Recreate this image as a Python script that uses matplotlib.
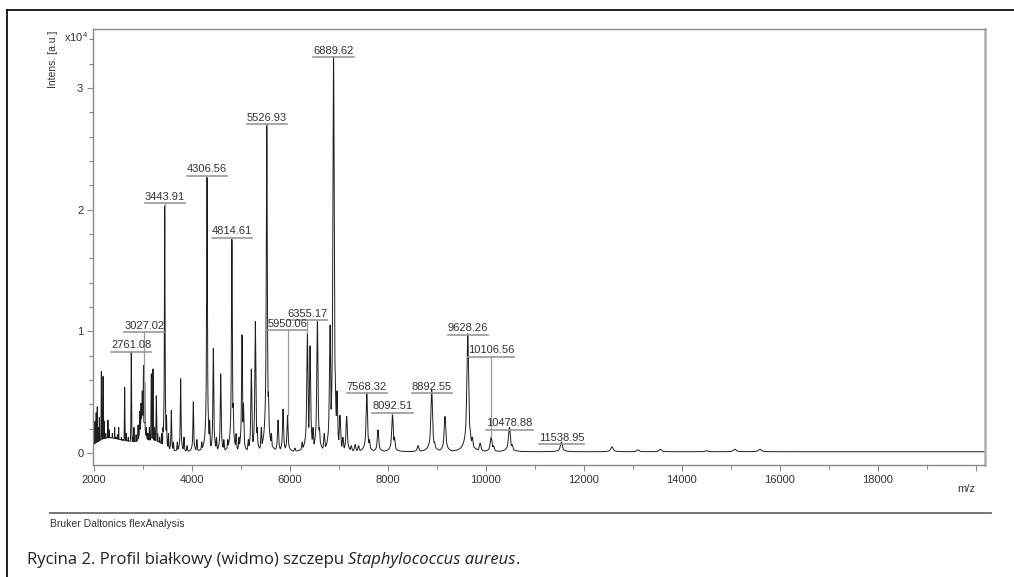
import numpy as np
import matplotlib
matplotlib.use("Agg")
import matplotlib.pyplot as plt
from matplotlib.lines import Line2D

plt.rcParams['font.family'] = ['Liberation Sans', 'DejaVu Sans']
plt.rcParams['mathtext.fontset'] = 'custom'
plt.rcParams['mathtext.rm'] = 'Liberation Sans'

# peaks: m/z and intensity (x10^4 a.u.)
peak_mz = [2020, 2045, 2067, 2090, 2110, 2150, 2185, 2210, 2240, 2285, 2310, 2340,
           2375, 2400, 2422, 2450, 2480, 2504, 2530, 2560, 2590, 2626, 2660, 2700,
           2761, 2790, 2816, 2860, 2900, 2932, 2960, 2985, 3010, 3035, 3070, 3100,
           3130, 3170, 3204, 3235, 3272, 3300, 3340, 3380, 3410, 3444, 3480, 3520,
           3578, 3620, 3700, 3769, 3837, 3900, 4027, 4100, 4200, 4306.56, 4360, 4436,
           4500, 4586, 4650, 4730, 4814.61, 4840, 4900, 4960, 5021, 5050, 5150, 5211,
           5293, 5330, 5415, 5526.93, 5560, 5620, 5756, 5858, 5950, 6100, 6250, 6334,
           6355, 6410, 6470, 6560, 6600, 6700, 6818, 6889.62, 6920, 6960, 7020, 7080,
           7157, 7250, 7330, 7400, 7568, 7620, 7797, 8092, 8130, 8613, 8892, 8950,
           9164, 9628, 9670, 9720, 9880, 10106, 10150, 10479, 10530, 11539, 12570,
           13100, 13560, 14500, 15080, 15590]
peak_int = [0.25, 0.32, 0.37, 0.20, 0.28, 0.66, 0.62, 0.25, 0.15, 0.26, 0.18, 0.12,
            0.15, 0.10, 0.20, 0.12, 0.14, 0.20, 0.10, 0.12, 0.10, 0.53, 0.15, 0.12,
            0.82, 0.12, 0.20, 0.14, 0.22, 0.33, 0.40, 0.50, 0.71, 0.57, 0.20, 0.15,
            0.20, 0.64, 0.68, 0.20, 0.46, 0.15, 0.12, 0.15, 0.20, 2.02, 0.30, 0.15,
            0.34, 0.08, 0.08, 0.60, 0.12, 0.05, 0.41, 0.10, 0.08, 2.26, 0.26, 0.85,
            0.12, 0.64, 0.10, 0.10, 1.75, 0.40, 0.15, 0.12, 0.96, 0.40, 0.10, 0.68,
            1.07, 0.20, 0.20, 2.68, 0.49, 0.15, 0.26, 0.35, 0.30, 0.03, 0.08, 0.15,
            0.98, 0.87, 0.20, 1.07, 0.20, 0.15, 1.04, 3.25, 0.68, 0.50, 0.30, 0.12,
            0.29, 0.05, 0.06, 0.05, 0.48, 0.10, 0.18, 0.31, 0.12, 0.05, 0.51, 0.08,
            0.29, 0.97, 0.20, 0.12, 0.07, 0.12, 0.05, 0.20, 0.06, 0.08, 0.04,
            0.015, 0.02, 0.008, 0.02, 0.02]

# broad underlying humps: centre, height, width (m/z)
hump_mz = [2250, 2800, 3250, 2990, 4320, 4820, 5530, 6420, 6880, 9640]
hump_int = [0.10, 0.07, 0.07, 0.22, 0.10, 0.12, 0.12, 0.12, 0.40, 0.12]
hump_w = [250, 300, 200, 40, 30, 30, 30, 60, 40, 40]

# annotated peaks: m/z and height of the label (x10^4)
label_mz = [2761.08, 3027.02, 3443.91, 4306.56, 4814.61, 5526.93, 5950.06, 6355.17,
            6889.62, 7568.32, 8092.51, 8892.55, 9628.26, 10106.56, 10478.88, 11538.95]
label_level = [0.83, 0.99, 2.05, 2.28, 1.77, 2.70, 1.01, 1.09,
               3.25, 0.49, 0.33, 0.49, 0.97, 0.79, 0.19, 0.07]

xticks = [2000, 4000, 6000, 8000, 10000, 12000, 14000, 16000, 18000, 20000]
xtick_labels = ['2000', '4000', '6000', '8000', '10000', '12000', '14000', '16000', '18000', '']
yticks = [0, 1, 2, 3]

mz = np.arange(2000, 20200, 1.0)
peaks = np.zeros_like(mz)
for c, h in zip(peak_mz, peak_int):
    s = c * 0.0016
    g = 0.65 * np.exp(-0.5 * ((mz - c) / s) ** 2) + 0.35 / (1 + ((mz - c) / (3 * s)) ** 2)
    peaks = np.maximum(peaks, h * g)
humps = np.zeros_like(mz)
for c, h, w in zip(hump_mz, hump_int, hump_w):
    humps += h * np.exp(-0.5 * ((mz - c) / w) ** 2)
spec = np.maximum(peaks, humps) + 0.01

fig = plt.figure(figsize=(10.14, 5.77), dpi=100)
W, H = 1014, 577
ax = fig.add_axes([93 / W, 1 - 465 / H, (985 - 93) / W, (465 - 29) / H])

ax.plot(mz, spec, color='#1e1e1e', lw=0.7)
ax.set_xlim(1980, 20185)
ax.set_ylim(-0.099, 3.484)

grey = '#8a8a8a'
for sp in ax.spines.values():
    sp.set_color(grey)
    sp.set_linewidth(1.0)
ax.spines['right'].set_linewidth(1.8)
ax.spines['right'].set_color('#b0b0b0')

ax.set_xticks(xticks)
ax.set_xticklabels(xtick_labels)
ax.set_xticks(np.arange(3000, 20000, 2000), minor=True)
ax.set_yticks(yticks)
ax.set_yticks([v for v in np.arange(0, 3.5, 0.2) if abs(v - round(v)) > 0.01], minor=True)
ax.tick_params(axis='both', which='major', length=4, width=0.8, color=grey,
               labelsize=8, labelcolor='#333333', pad=3)
ax.tick_params(axis='both', which='minor', length=3, width=0.8, color=grey)

fig.canvas.draw()
renderer = fig.canvas.get_renderer()
inv = ax.transData.inverted()
for m, lev in zip(label_mz, label_level):
    top = np.interp(m, mz, spec)
    ax.plot([m, m], [min(top, lev), lev], color='#9a9a9a', lw=0.9)
    px = ax.transData.transform((m, lev))
    t = ax.text(*inv.transform((px[0], px[1] + 1.5)), '%.2f' % m, ha='center',
                va='bottom', fontsize=8, color='#333333')
    bb = t.get_window_extent(renderer)
    x0 = inv.transform((bb.x0, 0))[0]
    x1 = inv.transform((bb.x1, 0))[0]
    ax.plot([x0, x1], [lev, lev], color='#9a9a9a', lw=1.2)

fig.text(966 / W, 1 - 489 / H, 'm/z', ha='center', va='center', fontsize=8, color='#333333')
fig.text(76 / W, 1 - 37 / H, 'x10$^4$', ha='center', va='center', fontsize=8, color='#333333')
fig.text(53 / W, 1 - 59 / H, 'Intens. [a.u.]', rotation=90, ha='center', va='center',
         fontsize=7.5, color='#333333')

# outer frame, separator and footer
fig.add_artist(Line2D([7 / W, 1.0], [1 - 10 / H, 1 - 10 / H], color='#111111', lw=1.3))
fig.add_artist(Line2D([7 / W, 7 / W], [1 - 10 / H, 0.0], color='#111111', lw=1.3))
fig.add_artist(Line2D([50 / W, 991 / W], [1 - 513 / H, 1 - 513 / H], color='#777777', lw=1.4))
fig.text(50 / W, 1 - 524 / H, 'Bruker Daltonics flexAnalysis', ha='left', va='center',
         fontsize=7.5, color='#333333')

cap1 = fig.text(27 / W, 1 - 560 / H, 'Rycina 2. Profil białkowy (widmo) szczepu ',
                ha='left', va='center', fontsize=12, family='Open Sans', color='#222222')
bb = cap1.get_window_extent(renderer)
cap2 = fig.text(bb.x1 / W, 1 - 560 / H, 'Staphylococcus aureus', ha='left', va='center',
                fontsize=12, family='Open Sans', style='italic', color='#222222')
bb2 = cap2.get_window_extent(renderer)
fig.text(bb2.x1 / W, 1 - 560 / H, '.', ha='left', va='center', fontsize=12,
         family='Open Sans', color='#222222')

fig.savefig('out.png', dpi=100)
